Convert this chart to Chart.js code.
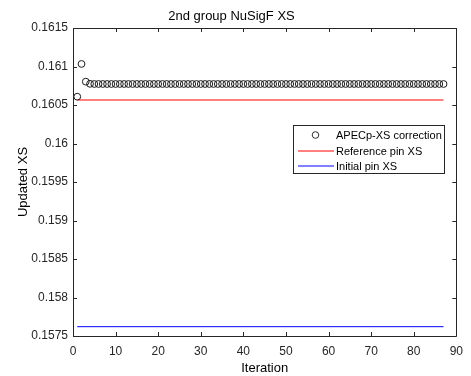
<!DOCTYPE html>
<html><head><meta charset="utf-8">
<script src="https://cdn.jsdelivr.net/npm/chart.js@4/dist/chart.umd.min.js"></script>
<style>html,body{margin:0;padding:0;background:#fff}#wrap{width:471px;height:376px}</style>
</head><body><div id="wrap"><canvas id="c" width="471" height="376"></canvas></div>
<script>
const chartTitle = '2nd group NuSigF XS';
const xAxisTitle = 'Iteration';
const yAxisTitle = 'Updated XS';
const seriesNames = ['APECp-XS correction', 'Reference pin XS', 'Initial pin XS'];
const seriesColors = ['#1a1a1a', '#ff0000', '#0000ff'];
const xTicks = [0, 10, 20, 30, 40, 50, 60, 70, 80, 90];
const yTicks = [0.1575, 0.158, 0.1585, 0.159, 0.1595, 0.16, 0.1605, 0.161, 0.1615];
const yTickLabels = ['0.1575', '0.158', '0.1585', '0.159', '0.1595', '0.16', '0.1605', '0.161', '0.1615'];
const apecValues = [
  0.160608, 0.161033, 0.160803, 0.160775, 0.160773, 0.160773, 0.160773, 0.160773, 0.160773, 0.160773,
  0.160773, 0.160773, 0.160773, 0.160773, 0.160773, 0.160773, 0.160773, 0.160773, 0.160773, 0.160773,
  0.160773, 0.160773, 0.160773, 0.160773, 0.160773, 0.160773, 0.160773, 0.160773, 0.160773, 0.160773,
  0.160773, 0.160773, 0.160773, 0.160773, 0.160773, 0.160773, 0.160773, 0.160773, 0.160773, 0.160773,
  0.160773, 0.160773, 0.160773, 0.160773, 0.160773, 0.160773, 0.160773, 0.160773, 0.160773, 0.160773,
  0.160773, 0.160773, 0.160773, 0.160773, 0.160773, 0.160773, 0.160773, 0.160773, 0.160773, 0.160773,
  0.160773, 0.160773, 0.160773, 0.160773, 0.160773, 0.160773, 0.160773, 0.160773, 0.160773, 0.160773,
  0.160773, 0.160773, 0.160773, 0.160773, 0.160773, 0.160773, 0.160773, 0.160773, 0.160773, 0.160773,
  0.160773, 0.160773, 0.160773, 0.160773, 0.160773, 0.160773, 0.160773
];
const referenceXS = 0.160565;
const initialXS = 0.157621;
const firstIter = 1;
const lastIter = apecValues.length;

const axisColor = '#262626';
const font = 'Liberation Sans, Arial, sans-serif';

const apecData = apecValues.map((v, i) => ({x: i + 1, y: v}));
const refData = [{x: firstIter, y: referenceXS}, {x: lastIter, y: referenceXS}];
const initData = [{x: firstIter, y: initialXS}, {x: lastIter, y: initialXS}];

const boxPlugin = {
  id: 'matlabBox',
  afterDraw(chart) {
    const {ctx, chartArea: a, scales} = chart;
    ctx.save();
    ctx.strokeStyle = axisColor;
    ctx.lineWidth = 1;
    ctx.beginPath();
    ctx.rect(Math.round(a.left) + 0.5, Math.round(a.top) + 0.5, Math.round(a.right - a.left), Math.round(a.bottom - a.top));
    ctx.stroke();
    const tl = 4;
    ctx.beginPath();
    scales.x.ticks.forEach(t => {
      const px = Math.round(scales.x.getPixelForValue(t.value)) + 0.5;
      ctx.moveTo(px, a.bottom); ctx.lineTo(px, a.bottom - tl);
      ctx.moveTo(px, a.top); ctx.lineTo(px, a.top + tl);
    });
    scales.y.ticks.forEach(t => {
      const py = Math.round(scales.y.getPixelForValue(t.value)) + 0.5;
      ctx.moveTo(a.left, py); ctx.lineTo(a.left + tl, py);
      ctx.moveTo(a.right, py); ctx.lineTo(a.right - tl, py);
    });
    ctx.stroke();

    // legend
    const bx = 293.5, by = 125.5, bw = 151, bh = 48;
    ctx.fillStyle = '#fff';
    ctx.fillRect(bx, by, bw, bh);
    ctx.strokeStyle = axisColor;
    ctx.lineWidth = 1;
    ctx.strokeRect(bx, by, bw, bh);
    const rows = [135, 151, 166];
    ctx.font = '11px ' + font;
    ctx.textBaseline = 'middle';
    ctx.textAlign = 'left';
    rows.forEach((ry, i) => {
      ctx.beginPath();
      ctx.strokeStyle = seriesColors[i];
      if (i === 0) {
        ctx.lineWidth = 0.9;
        ctx.arc(315.5, ry, 3.3, 0, Math.PI * 2);
      } else {
        ctx.lineWidth = 1;
        ctx.moveTo(298, ry); ctx.lineTo(334, ry);
      }
      ctx.stroke();
      ctx.fillStyle = '#000';
      ctx.fillText(seriesNames[i], 336, ry + 0.5);
    });
    ctx.restore();
  }
};

new Chart(document.getElementById('c'), {
  type: 'scatter',
  data: {
    datasets: [
      {label: seriesNames[0], data: apecData, showLine: false, pointStyle: 'circle', pointRadius: 3.4,
       pointBorderWidth: 1, borderColor: seriesColors[0], pointBorderColor: seriesColors[0], backgroundColor: 'rgba(0,0,0,0)', pointBackgroundColor: 'rgba(0,0,0,0)'},
      {label: seriesNames[1], data: refData, showLine: true, pointRadius: 0, borderColor: seriesColors[1], borderWidth: 1},
      {label: seriesNames[2], data: initData, showLine: true, pointRadius: 0, borderColor: seriesColors[2], borderWidth: 1}
    ]
  },
  options: {
    responsive: false,
    animation: false,
    events: [],
    layout: {padding: {left: 0, right: 8, top: 0, bottom: 0}},
    plugins: {
      legend: {display: false},
      tooltip: {enabled: false},
      title: {display: true, text: chartTitle, color: '#000', font: {family: font, size: 13, weight: 'normal'}, padding: {top: 9, bottom: 3.4}}
    },
    scales: {
      x: {
        type: 'linear', min: 0, max: 90,
        afterBuildTicks: s => { s.ticks = xTicks.map(v => ({value: v})); },
        afterFit: s => { s.height = 40; },
        grid: {display: false, drawTicks: false},
        border: {display: false},
        ticks: {color: axisColor, font: {family: font, size: 12}, padding: 8, maxRotation: 0},
        title: {display: true, text: xAxisTitle, color: '#000', font: {family: font, size: 13}, padding: {top: 0, bottom: 0}}
      },
      y: {
        type: 'linear', min: 0.1575, max: 0.1615,
        afterBuildTicks: s => { s.ticks = yTicks.map(v => ({value: v})); },
        afterFit: s => { s.width = 73; },
        grid: {display: false, drawTicks: false},
        border: {display: false},
        ticks: {color: axisColor, font: {family: font, size: 12}, padding: 5,
          callback: (v) => { const i = yTicks.findIndex(t => Math.abs(t - v) < 1e-9); return i >= 0 ? yTickLabels[i] : ''; }},
        title: {display: true, text: yAxisTitle, color: '#000', font: {family: font, size: 13}, padding: {top: 16, bottom: 0}}
      }
    }
  },
  plugins: [boxPlugin]
});
</script>
</body></html>
